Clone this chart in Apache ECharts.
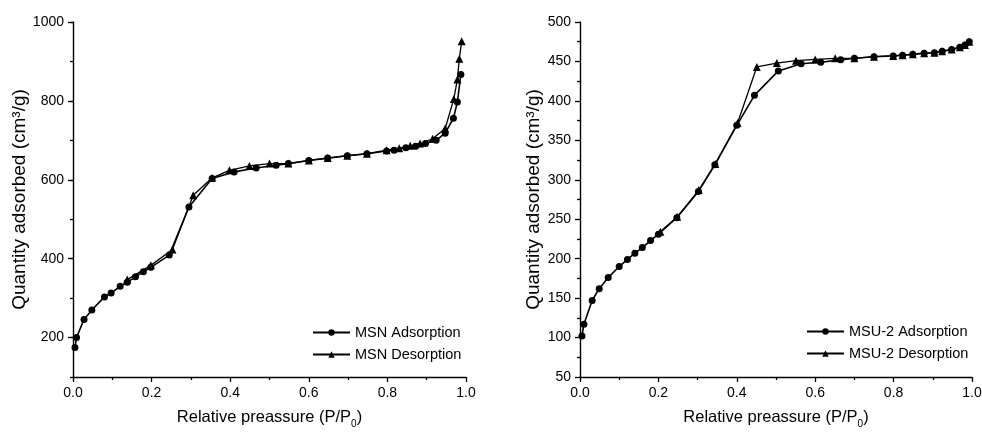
<!DOCTYPE html>
<html>
<head>
<meta charset="utf-8">
<script src="https://cdn.jsdelivr.net/npm/echarts@6/dist/echarts.min.js"></script>
<style>html,body{margin:0;padding:0;background:#fff;}#c{width:982px;height:432px;}</style>
</head>
<body>
<div id="c"></div>
<script>
// ---- Data ----
const msnAdsX = [0.005,0.009,0.028,0.048,0.08,0.097,0.12,0.138,0.159,0.179,0.198,0.245,0.295,0.354,0.41,0.466,0.517,0.548,0.6,0.648,0.698,0.748,0.798,0.817,0.847,0.872,0.897,0.924,0.947,0.968,0.978,0.987];
const msnAdsY = [175,200,246,270,303,313,330,340,354,367,378,409,531,603,620,630,637,641,649,655,661,666,673,675,681,685,692,700,718,756,797,867];
const msnDesX = [0.989,0.983,0.978,0.969,0.947,0.915,0.883,0.858,0.83,0.798,0.748,0.698,0.648,0.6,0.548,0.5,0.449,0.398,0.354,0.306,0.253,0.198,0.138];
const msnDesY = [951,907,854,805,730,704,692,686,680,675,666,661,655,649,641,641,635,624,605,561,423,383,347];

const msuAdsX = [0.005,0.01,0.031,0.049,0.072,0.1,0.121,0.14,0.159,0.18,0.2,0.247,0.302,0.344,0.4,0.445,0.506,0.564,0.614,0.665,0.7,0.75,0.799,0.823,0.849,0.878,0.904,0.924,0.948,0.969,0.982,0.993];
const msuAdsY = [102,117,147,162,176,190,199,207,214,223,231,252,285,319,369,407,438,447,449,452,454,456,457,458,459,460.5,461,463,465,468,471,475];
const msuDesX = [0.993,0.982,0.969,0.948,0.924,0.904,0.878,0.849,0.823,0.799,0.75,0.7,0.651,0.6,0.551,0.502,0.451,0.402,0.345,0.303,0.248,0.205];
const msuDesY = [475,471,468,465,463,461,460.5,459,458,457,456,454,454,452.5,451,448,443,372,320,287,253,234];

const seriesNames = ['MSN Adsorption','MSN Desorption','MSU-2 Adsorption','MSU-2 Desorption'];
const xTickLabels = ['0.0','0.2','0.4','0.6','0.8','1.0'];
const leftYLabels = [200,400,600,800,1000];
const rightYLabels = [50,100,150,200,250,300,350,400,450,500];

const xTitle = 'Relative preassure (P/P{s|0})';
const yTitle = 'Quantity adsorbed (cm³/g)';

function pairs(xs, ys){ return xs.map((x,i)=>[x, ys[i]]); }

const FONT = '"Liberation Sans", Arial, sans-serif';
const black = '#000';

function xAxis(gridIndex){
  return {
    type:'value', gridIndex, min:0, max:1, interval:0.2,
    axisLine:{show:true, onZero:false, lineStyle:{color:black, width:1.4}},
    axisTick:{show:true, length:5, lineStyle:{color:black, width:1.3}},
    minorTick:{show:true, splitNumber:2, length:3, lineStyle:{color:black, width:1.3}},
    splitLine:{show:false},
    axisLabel:{color:black, fontFamily:FONT, fontSize:14, margin:9,
      formatter:(v)=>{ const i = Math.round(v/0.2); return (Math.abs(v - i*0.2) < 1e-6) ? xTickLabels[i] : ''; }},
    name:xTitle, nameLocation:'middle', nameGap:28,
    nameTextStyle:{color:black, fontFamily:FONT, fontSize:16.5,
      rich:{s:{fontSize:10, fontFamily:FONT, color:black, verticalAlign:'bottom', lineHeight:24}}}
  };
}

const option = {
  animation:false,
  backgroundColor:'#fff',
  grid:[
    {left:73, right:516, top:22, bottom:55, outerBoundsMode:'none'},
    {left:580, right:10, top:22, bottom:55, outerBoundsMode:'none'}
  ],
  xAxis:[xAxis(0), xAxis(1)],
  yAxis:[
    {
      type:'value', gridIndex:0, min:100, max:1000, interval:100,
      axisLine:{show:true, lineStyle:{color:black, width:1.4}},
      axisTick:{show:true, length:3, lineStyle:{color:black, width:1.3}},
      splitLine:{show:false},
      axisLabel:{color:black, fontFamily:FONT, fontSize:14, margin:9,
        formatter:(v)=> leftYLabels.indexOf(v) >= 0 ? String(v) : ''},
      name:yTitle, nameLocation:'middle', nameGap:43,
      nameTextStyle:{color:black, fontFamily:FONT, fontSize:19}
    },
    {
      type:'value', gridIndex:0, min:100, max:1000, interval:100, position:'left',
      axisLine:{show:false},
      axisTick:{show:true, length:5, customValues:leftYLabels, lineStyle:{color:black, width:1.3}},
      axisLabel:{show:false},
      splitLine:{show:false}
    },
    {
      type:'value', gridIndex:1, min:50, max:500, interval:50,
      axisLine:{show:true, lineStyle:{color:black, width:1.4}},
      axisTick:{show:true, length:5, lineStyle:{color:black, width:1.3}},
      minorTick:{show:true, splitNumber:2, length:3, lineStyle:{color:black, width:1.3}},
      splitLine:{show:false},
      axisLabel:{color:black, fontFamily:FONT, fontSize:14, margin:9,
        formatter:(v)=> rightYLabels.indexOf(v) >= 0 ? String(v) : ''},
      name:yTitle, nameLocation:'middle', nameGap:36,
      nameTextStyle:{color:black, fontFamily:FONT, fontSize:19}
    }
  ],
  legend:[
    {data:[seriesNames[0], seriesNames[1]], orient:'vertical', left:307, top:320, itemGap:7,
     itemWidth:37, itemHeight:8, textStyle:{color:black, fontFamily:FONT, fontSize:14.5}},
    {data:[seriesNames[2], seriesNames[3]], orient:'vertical', left:801, top:319, itemGap:7,
     itemWidth:37, itemHeight:8, textStyle:{color:black, fontFamily:FONT, fontSize:14.5}}
  ],
  series:[
    {name:seriesNames[0], type:'line', xAxisIndex:0, yAxisIndex:0, data:pairs(msnAdsX,msnAdsY),
     symbol:'circle', symbolSize:7, lineStyle:{color:black, width:1.6}, itemStyle:{color:black}},
    {name:seriesNames[1], type:'line', xAxisIndex:0, yAxisIndex:0, data:pairs(msnDesX,msnDesY),
     symbol:'triangle', symbolSize:8, lineStyle:{color:black, width:1.3}, itemStyle:{color:black}},
    {name:seriesNames[2], type:'line', xAxisIndex:1, yAxisIndex:2, data:pairs(msuAdsX,msuAdsY),
     symbol:'circle', symbolSize:7, lineStyle:{color:black, width:1.6}, itemStyle:{color:black}},
    {name:seriesNames[3], type:'line', xAxisIndex:1, yAxisIndex:2, data:pairs(msuDesX,msuDesY),
     symbol:'triangle', symbolSize:8, lineStyle:{color:black, width:1.3}, itemStyle:{color:black}}
  ]
};

const chart = echarts.init(document.getElementById('c'), null, {renderer:'canvas'});
chart.setOption(option);
</script>
</body>
</html>
